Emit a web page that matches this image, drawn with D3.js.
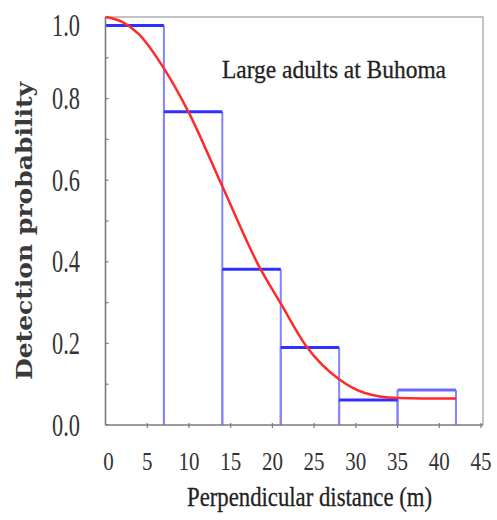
<!DOCTYPE html>
<html>
<head>
<meta charset="utf-8">
<script src="https://cdn.jsdelivr.net/npm/d3@7"></script>
<style>
  html, body { margin: 0; padding: 0; background: #fff; }
  svg { display: block; }
  .serif { font-family: "Liberation Serif", "Times New Roman", Times, serif; }
  .slab { font-family: "DejaVu Serif", serif; }
</style>
</head>
<body>
<div id="chart"></div>
<script>
// Detection-probability histogram (7 m distance bins) with fitted detection function
const binEdges = [0, 7, 14, 21, 28, 35, 42];
const binValues = [0.979, 0.768, 0.382, 0.190, 0.061, 0.086];

// Fitted detection function g(x), read at selected distances
const curveX = [0, 2, 4, 7, 10, 14, 18.5, 21, 24, 28, 31, 35, 38, 42];
const curveY = [1.0, 0.988, 0.958, 0.874, 0.765, 0.585, 0.385, 0.298, 0.195, 0.112, 0.079, 0.066, 0.065, 0.065];

const xTicks = [0, 5, 10, 15, 20, 25, 30, 35, 40, 45];
const yTicks = [0.0, 0.2, 0.4, 0.6, 0.8, 1.0];
const yMinorTicks = [0.1, 0.3, 0.5, 0.7, 0.9];

const titleText = "Large adults at  Buhoma";
const xLabel = "Perpendicular distance (m)";
const yLabel = "Detection probability";

const W = 497, H = 520;
const svg = d3.select("#chart").append("svg")
  .attr("width", W).attr("height", H);

const x = d3.scaleLinear().domain([0, 45]).range([105.5, 481]);
const y = d3.scaleLinear().domain([0, 1]).range([425, 17]);

// frame (top and right)
svg.append("path")
  .attr("d", `M${x(0)},${y(1)} H483 V${y(0)}`)
  .attr("fill", "none").attr("stroke", "#b0b0b0").attr("stroke-width", 1.5);

// histogram bars: light sides, heavier tops
const bins = binValues.map((v, i) => ({ x0: binEdges[i], x1: binEdges[i + 1], v, i }));
const bars = svg.append("g");
bars.selectAll("path.side").data(bins).join("path")
  .attr("class", "side")
  .attr("d", d => (d.i === 0 ? "" : `M${x(d.x0)},${y(0)} V${y(d.v)} `) + `M${x(d.x1)},${y(d.v)} V${y(0)}`)
  .attr("fill", "none").attr("stroke", "#8484ff").attr("stroke-width", 2);
bars.selectAll("line.top").data(bins).join("line")
  .attr("class", "top")
  .attr("x1", d => x(d.x0)).attr("x2", d => x(d.x1))
  .attr("y1", d => y(d.v)).attr("y2", d => y(d.v))
  .attr("stroke", d => d.i === bins.length - 1 ? "#6a6aff" : "#3030ff")
  .attr("stroke-width", 3);

// axes
const axisColor = "#7a7a7a";
svg.append("line")
  .attr("x1", x(0)).attr("x2", 483).attr("y1", y(0)).attr("y2", y(0))
  .attr("stroke", axisColor).attr("stroke-width", 1.6);
svg.append("line")
  .attr("x1", x(0)).attr("x2", x(0)).attr("y1", y(0)).attr("y2", y(1))
  .attr("stroke", axisColor).attr("stroke-width", 1.6);

svg.append("g").selectAll("line").data(xTicks.slice(1)).join("line")
  .attr("x1", d => x(d)).attr("x2", d => x(d))
  .attr("y1", y(0) - 2).attr("y2", y(0) + 3)
  .attr("stroke", axisColor).attr("stroke-width", 1.2);
svg.append("g").selectAll("line").data(yTicks.concat(yMinorTicks)).join("line")
  .attr("x1", x(0)).attr("x2", x(0) + 3)
  .attr("y1", d => y(d)).attr("y2", d => y(d))
  .attr("stroke", axisColor).attr("stroke-width", 1.2);

// fitted detection function
const line = d3.line()
  .x(d => x(d[0])).y(d => y(d[1]))
  .curve(d3.curveMonotoneX);
svg.append("path")
  .datum(curveX.map((v, i) => [v, curveY[i]]))
  .attr("d", line)
  .attr("fill", "none").attr("stroke", "#ff2a2a").attr("stroke-width", 2.5);

// tick labels
svg.append("g").selectAll("text").data(yTicks).join("text")
  .attr("class", "serif")
  .attr("x", 80)
  .attr("y", d => y(d) + 10.5 + (d === 1 ? 8 : 0))
  .attr("text-anchor", "end")
  .attr("font-size", 31)
  .attr("fill", "#333")
  .attr("textLength", 28).attr("lengthAdjust", "spacingAndGlyphs")
  .text(d => d3.format(".1f")(d));

svg.append("g").selectAll("text").data(xTicks).join("text")
  .attr("class", "serif")
  .attr("x", d => x(d) + (d === 0 ? 3 : 0))
  .attr("y", 470)
  .attr("text-anchor", "middle")
  .attr("font-size", 25)
  .attr("fill", "#333")
  .attr("textLength", d => String(d).length * 10.5).attr("lengthAdjust", "spacingAndGlyphs")
  .text(d => d);

// axis titles
svg.append("text")
  .attr("class", "serif")
  .attr("x", 187).attr("y", 506)
  .attr("font-size", 28)
  .attr("fill", "#222").attr("stroke", "#222").attr("stroke-width", 0.3)
  .attr("textLength", 245).attr("lengthAdjust", "spacingAndGlyphs")
  .text(xLabel);

svg.append("text")
  .attr("class", "slab")
  .attr("transform", "translate(32,380) rotate(-90)")
  .attr("font-size", 22)
  .attr("font-weight", "bold")
  .attr("fill", "#3a3a3a")
  .attr("textLength", 298).attr("lengthAdjust", "spacingAndGlyphs")
  .text(yLabel);

// panel title
svg.append("text")
  .attr("class", "serif")
  .attr("x", 222).attr("y", 78)
  .attr("font-size", 26)
  .attr("fill", "#222").attr("stroke", "#222").attr("stroke-width", 0.3)
  .attr("textLength", 224).attr("lengthAdjust", "spacingAndGlyphs")
  .text(titleText);
</script>
</body>
</html>
